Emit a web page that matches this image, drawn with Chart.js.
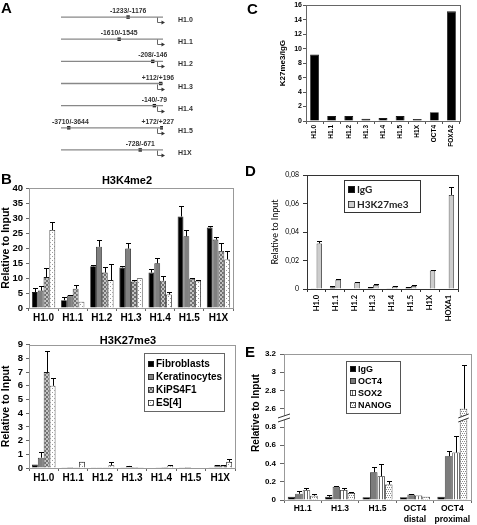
<!DOCTYPE html>
<html>
<head>
<meta charset="utf-8">
<title>Figure</title>
<script src="https://cdn.jsdelivr.net/npm/chart.js@4.4.1/dist/chart.umd.min.js"></script>
<style>
  html, body { margin: 0; padding: 0; background: #fff; }
  #fig { position: relative; width: 477px; height: 525px; overflow: hidden; font-family: "Liberation Sans", Arial, sans-serif; color: #000; }
  #fig canvas { position: absolute; }
  .letter { position: absolute; font-weight: bold; font-size: 15px; line-height: 15px; }
  .ptitle { position: absolute; font-weight: bold; font-size: 11px; line-height: 11px; transform: translate(-50%, -50%); white-space: nowrap; }
  .ytitle { position: absolute; font-weight: bold; font-size: 10px; line-height: 10px; transform: translate(-50%, -50%) rotate(-90deg); white-space: nowrap; }
</style>
</head>
<body>
<div id="fig">
  <canvas id="chartA" width="240" height="170" style="left:0;top:0"></canvas>
  <canvas id="chartB1" width="240" height="150" style="left:0;top:176px"></canvas>
  <canvas id="chartB2" width="240" height="150" style="left:0;top:336px"></canvas>
  <canvas id="chartC" width="227" height="170" style="left:250px;top:0"></canvas>
  <canvas id="chartD" width="227" height="165" style="left:250px;top:165px"></canvas>
  <canvas id="chartE" width="227" height="180" style="left:250px;top:345px"></canvas>
  <div class="letter" style="left:1px;top:0">A</div>
  <div class="letter" style="left:1px;top:171px">B</div>
  <div class="letter" style="left:247px;top:1px">C</div>
  <div class="letter" style="left:245px;top:163px">D</div>
  <div class="letter" style="left:245px;top:344px">E</div>
  <div class="ptitle" style="left:127px;top:180px">H3K4me2</div>
  <div class="ptitle" style="left:128px;top:340px">H3K27me3</div>
  <div class="ytitle" style="left:256px;top:413px">Relative to Input</div>
</div>
<script>
// ---- A: promoter map (positions in bp from the TSS)
const A_GENES = ['H1.0', 'H1.1', 'H1.2', 'H1.3', 'H1.4', 'H1.5', 'H1X']
const A_SPAN = [-4000, 250]
const A_SITES = ['-1233/-1176', '-1610/-1545', '-208/-146', '+112/+196', '-140/-79', '-3710/-3644', '+172/+227', '-728/-671']
const A_SITE_ROW = [0, 1, 2, 3, 4, 5, 5, 6]

// ---- B: ChIP, relative to input
const B_GENES = ['H1.0', 'H1.1', 'H1.2', 'H1.3', 'H1.4', 'H1.5', 'H1X']
const CELLS = ['Fibroblasts', 'Keratinocytes', 'KiPS4F1', 'ES[4]']
const K4_FIB = [5.3, 2.6, 13.9, 13.5, 11.8, 30.5, 26.8]
const K4_FIB_ERR = [1.3, 1.0, 0.4, 0.6, 1.3, 3.5, 0.5]
const K4_KER = [5.8, 4.2, 20.4, 19.8, 14.9, 23.9, 22.8]
const K4_KER_ERR = [1.6, 0.3, 2.2, 1.8, 1.8, 2.0, 1.0]
const K4_KIPS = [10.3, 6.4, 11.8, 8.8, 9.1, 9.8, 19.0]
const K4_KIPS_ERR = [3.0, 1.2, 2.0, 0.4, 1.6, 0.3, 2.8]
const K4_ES = [26.0, 2.1, 9.3, 9.9, 4.5, 9.1, 16.2]
const K4_ES_ERR = [2.6, 0, 5.5, 0, 0.7, 0.3, 2.7]

const K27_FIB = [0.25, 0.05, 0.05, 0.05, 0.03, 0.05, 0.05]
const K27_FIB_ERR = [0, 0, 0, 0, 0, 0, 0]
const K27_KER = [0.75, 0.08, 0.05, 0.15, 0.05, 0.07, 0.22]
const K27_KER_ERR = [0.4, 0, 0, 0.03, 0, 0, 0.03]
const K27_KIPS = [7.0, 0.05, 0.05, 0.07, 0.08, 0.04, 0.2]
const K27_KIPS_ERR = [1.55, 0, 0, 0, 0, 0, 0.03]
const K27_ES = [6.0, 0.45, 0.2, 0.05, 0.18, 0.04, 0.45]
const K27_ES_ERR = [0.6, 0, 0.22, 0, 0.02, 0, 0.22]

// ---- C: K27me3 / IgG
const C_GENES = ['H1.0', 'H1.1', 'H1.2', 'H1.3', 'H1.4', 'H1.5', 'H1X', 'OCT4', 'FOXA2']
const C_RATIO = [9.2, 0.68, 0.68, 0.3, 0.4, 0.68, 0.28, 1.2, 15.15]

// ---- D
const D_GENES = ['H1.0', 'H1.1', 'H1.2', 'H1.3', 'H1.4', 'H1.5', 'H1X', 'HOXA1']
const D_IGG = [0.0005, 0.0012, 0.0003, 0.0009, 0.0001, 0.001, 0.0003, 0.0004]
const D_IGG_ERR = [0, 0.0006, 0, 0.0005, 0, 0.0004, 0, 0]
const D_K27 = [0.032, 0.0065, 0.0046, 0.0028, 0.0017, 0.0022, 0.013, 0.066]
const D_K27_ERR = [0.0018, 0.0006, 0.0002, 0.001, 0.0001, 0.0005, 0.0003, 0.0055]

// ---- E (broken axis: 0..0.9 then 2.5..3.2)
const E_SITES = ['H1.1', 'H1.3', 'H1.5', ['OCT4', 'distal'], ['OCT4', 'proximal']]
const E_IGG = [0.035, 0.035, 0.03, 0.03, 0.035]
const E_IGG_ERR = [0, 0.015, 0, 0, 0]
const E_OCT4 = [0.068, 0.145, 0.305, 0.06, 0.48]
const E_OCT4_ERR = [0.03, 0.005, 0.055, 0.005, 0.06]
const E_SOX2 = [0.108, 0.11, 0.26, 0.05, 0.52]
const E_SOX2_ERR = [0.027, 0.02, 0.13, 0, 0.18]
const E_NANOG = [0.047, 0.078, 0.17, 0.035, 2.6]
const E_NANOG_ERR = [0.02, 0.01, 0.04, 0, 0.48]
const E_BREAK = 0.9
const E_JUMP = 1.6

const toAxis = (v) => (v > E_BREAK ? v - E_JUMP : v)
const fromAxis = (v) => (v > E_BREAK ? v + E_JUMP : v)

const FONT = '"Liberation Sans", Arial, sans-serif'
const LATO = 'Lato, "Liberation Sans", sans-serif'
Chart.defaults.font.family = FONT
Chart.defaults.color = '#000'
Chart.defaults.animation = false
Chart.defaults.responsive = false
Chart.defaults.events = []
Chart.defaults.plugins.legend.display = false
Chart.defaults.plugins.tooltip.enabled = false

function pattern(w, h, base, cells, ink) {
  const c = document.createElement('canvas')
  c.width = w
  c.height = h
  const g = c.getContext('2d')
  g.fillStyle = base
  g.fillRect(0, 0, w, h)
  g.fillStyle = ink
  cells.forEach(([x, y, cw, ch]) => g.fillRect(x, y, cw || 1, ch || 1))
  return g.createPattern(c, 'repeat')
}
const CHECK = pattern(4, 4, '#707070', [[0, 0, 2, 2], [2, 2, 2, 2]], '#c4c4c4')
const DOTS = pattern(4, 4, '#fff', [[0, 0], [2, 2]], '#9a9a9a')
const STRIPES = pattern(3, 1, '#fff', [[0, 0]], '#6a6a6a')
const DOTS2 = pattern(4, 4, '#fff', [[0, 0], [2, 0], [1, 2], [3, 2]], '#8a8a8a')

// plot frame
const frame = {
  id: 'frame',
  beforeDatasetsDraw(chart, args, o) {
    const { ctx, chartArea: a } = chart
    ctx.save()
    ctx.strokeStyle = o.color || '#888'
    ctx.lineWidth = 1
    ctx.strokeRect(Math.round(a.left) + 0.5, Math.round(a.top) + 0.5, Math.round(a.right - a.left), Math.round(a.bottom - a.top))
    ctx.restore()
  },
}

// upward error bars, dataset.errTop holds the tip value in axis units
const errorBars = {
  id: 'errorBars',
  afterDatasetsDraw(chart) {
    const { ctx } = chart
    const y = chart.scales.y
    ctx.save()
    ctx.strokeStyle = '#000'
    ctx.lineWidth = 1
    chart.data.datasets.forEach((ds, di) => {
      if (!ds.errTop) return
      chart.getDatasetMeta(di).data.forEach((bar, i) => {
        const top = ds.errTop[i]
        if (!(top > ds.data[i])) return
        const x = Math.round(bar.x) + 0.5
        const y1 = Math.round(y.getPixelForValue(top)) + 0.5
        const w = Math.min(bar.width / 2, 2.5)
        ctx.beginPath()
        ctx.moveTo(x, bar.y)
        ctx.lineTo(x, y1)
        ctx.moveTo(x - w, y1)
        ctx.lineTo(x + w, y1)
        ctx.stroke()
      })
    })
    ctx.restore()
  },
}

// boxed legend at a fixed spot inside the plot
const boxLegend = {
  id: 'boxLegend',
  afterDraw(chart, args, o) {
    if (!o || !o.box) return
    const { ctx } = chart
    const [l, t, w, h] = o.box
    ctx.save()
    ctx.fillStyle = '#fff'
    ctx.fillRect(l, t, w, h)
    ctx.strokeStyle = o.border || '#555'
    ctx.lineWidth = 1
    ctx.strokeRect(l + 0.5, t + 0.5, w, h)
    ctx.font = o.font
    ctx.textAlign = 'left'
    ctx.textBaseline = 'middle'
    chart.data.datasets.forEach((ds, i) => {
      const cy = t + o.first + i * o.rowH
      const sx = l + o.pad
      ctx.fillStyle = ds.backgroundColor
      ctx.fillRect(sx, Math.round(cy - o.sw / 2), o.sw, o.sw)
      ctx.strokeStyle = '#222'
      ctx.lineWidth = 0.8
      ctx.strokeRect(sx + 0.5, Math.round(cy - o.sw / 2) + 0.5, o.sw - 1, o.sw - 1)
      ctx.fillStyle = o.color || '#000'
      ctx.fillText(ds.label, sx + o.sw + 2, cy + 0.5)
    })
    ctx.restore()
  },
}

// axis break marks for panel E
const axisBreak = {
  id: 'axisBreak',
  afterDatasetsDraw(chart, args, o) {
    if (!o || o.at == null) return
    const { ctx } = chart
    const y = chart.scales.y
    const yb = y.getPixelForValue(o.at)
    const spots = [{ x: chart.chartArea.left, hw: 6 }]
    chart.data.datasets.forEach((ds, di) => {
      chart.getDatasetMeta(di).data.forEach((bar, i) => {
        if (ds.data[i] > o.at) spots.push({ x: bar.x, hw: bar.width / 2 + 1.5 })
      })
    })
    ctx.save()
    spots.forEach(({ x, hw }) => {
      ctx.fillStyle = '#fff'
      ctx.beginPath()
      ctx.moveTo(x - hw, yb + 1)
      ctx.lineTo(x + hw, yb - 3)
      ctx.lineTo(x + hw, yb + 1)
      ctx.lineTo(x - hw, yb + 5)
      ctx.closePath()
      ctx.fill()
      ctx.strokeStyle = '#333'
      ctx.lineWidth = 1
      ctx.beginPath()
      ctx.moveTo(x - hw, yb + 1)
      ctx.lineTo(x + hw, yb - 3)
      ctx.moveTo(x - hw, yb + 5)
      ctx.lineTo(x + hw, yb + 1)
      ctx.stroke()
    })
    ctx.restore()
  },
}

// gene labels, TSS arrows and amplicon labels for panel A
const A_SITE_POS = A_SITES.map((s) => s.split('/').map(Number)).map(([a, b]) => (a + b) / 2)
const promoterMap = {
  id: 'promoterMap',
  afterDatasetsDraw(chart) {
    const { ctx, scales: { x, y } } = chart
    const tss = Math.round(x.getPixelForValue(0)) + 0.5
    ctx.save()
    ctx.strokeStyle = '#666'
    ctx.fillStyle = '#333'
    ctx.lineWidth = 1
    A_GENES.forEach((g, i) => {
      const py = Math.round(y.getPixelForValue(i)) + 0.5
      ctx.beginPath()
      ctx.moveTo(tss, py)
      ctx.lineTo(tss, py + 5)
      ctx.lineTo(tss + 5, py + 5)
      ctx.stroke()
      ctx.beginPath()
      ctx.moveTo(tss + 7.5, py + 5)
      ctx.lineTo(tss + 4, py + 3)
      ctx.lineTo(tss + 4, py + 7)
      ctx.closePath()
      ctx.fill()
      ctx.font = 'bold 7px ' + FONT
      ctx.textAlign = 'left'
      ctx.textBaseline = 'middle'
      ctx.fillText(g, x.right + 15, py + 3)
    })
    ctx.font = 'bold 6.8px ' + FONT
    ctx.textBaseline = 'alphabetic'
    A_SITES.forEach((s, i) => {
      const px = x.getPixelForValue(A_SITE_POS[i])
      const py = y.getPixelForValue(A_SITE_ROW[i])
      const w = ctx.measureText(s).width
      const left = Math.max(x.left - 9, Math.min(px - w / 2, x.right + 11 - w))
      ctx.fillText(s, left, py - 4)
    })
    ctx.restore()
  },
}

new Chart(document.getElementById('chartA'), {
  type: 'scatter',
  data: {
    datasets: [
      ...A_GENES.map((g, i) => ({
        type: 'line',
        data: A_SPAN.map((v) => ({ x: v, y: i })),
        borderColor: '#888',
        borderWidth: 1.3,
        pointRadius: 0,
      })),
      {
        data: A_SITE_POS.map((v, i) => ({ x: v, y: A_SITE_ROW[i] })),
        pointStyle: 'rect',
        pointRadius: 2.4,
        backgroundColor: '#111',
        borderWidth: 0,
      },
    ],
  },
  options: {
    layout: { padding: { left: 61, right: 77, top: 6, bottom: 9 } },
    scales: {
      x: { type: 'linear', display: false, min: A_SPAN[0], max: A_SPAN[1] },
      y: { display: false, min: -0.5, max: A_GENES.length - 0.5, reverse: true },
    },
  },
  plugins: [promoterMap],
})

function yAxis({ min, max, step, width, font, tl, pad, border, title, cb }) {
  return {
    min, max,
    ticks: { stepSize: step, font, padding: pad, callback: cb, autoSkip: false },
    grid: { drawOnChartArea: false, tickLength: tl, color: border },
    border: { color: border },
    title: title || { display: false },
    afterFit: (s) => { s.width = width },
  }
}
function xAxis({ height, font, tl, pad, rot = 0, border }) {
  return {
    ticks: { font, padding: pad, maxRotation: rot, minRotation: rot, autoSkip: false },
    grid: { offset: true, drawOnChartArea: false, tickLength: tl, color: border },
    border: { color: border },
    afterFit: (s) => { s.height = height },
  }
}
function bars(label, values, errs, color) {
  return {
    label,
    data: values,
    errTop: errs ? values.map((v, i) => v + errs[i]) : null,
    backgroundColor: color,
    borderColor: '#1a1a1a',
    borderWidth: 0.8,
  }
}
function barChart(id, { labels, datasets, padding, x, y, catPct, barPct, frameColor, legend, breakAt, extra = [] }) {
  return new Chart(document.getElementById(id), {
    type: 'bar',
    data: { labels, datasets },
    options: {
      layout: { padding },
      datasets: { bar: { categoryPercentage: catPct, barPercentage: barPct } },
      scales: { x, y },
      plugins: { frame: { color: frameColor }, boxLegend: legend || false, axisBreak: breakAt != null ? { at: breakAt } : false },
    },
    plugins: [frame, errorBars, boxLegend, ...extra],
  })
}

const B_COLORS = ['#000', '#808080', CHECK, DOTS]
const bTitle = { display: true, text: 'Relative to Input', font: { size: 10.5, weight: 'bold' }, padding: { top: 0, bottom: 0 } }

barChart('chartB1', {
  labels: B_GENES,
  datasets: [
    bars(CELLS[0], K4_FIB, K4_FIB_ERR, B_COLORS[0]),
    bars(CELLS[1], K4_KER, K4_KER_ERR, B_COLORS[1]),
    bars(CELLS[2], K4_KIPS, K4_KIPS_ERR, B_COLORS[2]),
    bars(CELLS[3], K4_ES, K4_ES_ERR, B_COLORS[3]),
  ],
  padding: { left: 0, right: 7, top: 12, bottom: 0 },
  x: xAxis({ height: 18, font: { size: 10, weight: 'bold' }, tl: 3, pad: 1, border: '#666' }),
  y: yAxis({ min: 0, max: 40, step: 5, width: 29, font: { size: 9.5, weight: 'bold' }, tl: 3, pad: 3, border: '#666', title: bTitle }),
  catPct: 0.8, barPct: 1, frameColor: '#999',
})

barChart('chartB2', {
  labels: B_GENES,
  datasets: [
    bars(CELLS[0], K27_FIB, K27_FIB_ERR, B_COLORS[0]),
    bars(CELLS[1], K27_KER, K27_KER_ERR, B_COLORS[1]),
    bars(CELLS[2], K27_KIPS, K27_KIPS_ERR, B_COLORS[2]),
    bars(CELLS[3], K27_ES, K27_ES_ERR, B_COLORS[3]),
  ],
  padding: { left: 0, right: 5, top: 8, bottom: 0 },
  x: xAxis({ height: 18, font: { size: 10, weight: 'bold' }, tl: 3, pad: 1, border: '#666' }),
  y: yAxis({ min: 0, max: 9, step: 1, width: 29, font: { size: 9.5, weight: 'bold' }, tl: 3, pad: 3, border: '#666', title: bTitle }),
  catPct: 0.8, barPct: 1, frameColor: '#999',
  legend: { box: [144, 17, 80, 58], first: 11, rowH: 13, pad: 4, sw: 6, font: 'bold 10px ' + FONT, border: '#666' },
})

barChart('chartC', {
  labels: C_GENES,
  datasets: [bars('K27me3/IgG', C_RATIO, null, '#000')],
  padding: { left: 28, right: 17, top: 5, bottom: 0 },
  x: xAxis({ height: 49, font: { size: 6.5, weight: 'bold' }, tl: 3, pad: 1, rot: 90, border: '#555' }),
  y: yAxis({
    min: 0, max: 16, step: 2, width: 28, font: { size: 7, weight: 'bold' }, tl: 3, pad: 1, border: '#555',
    title: { display: true, text: 'K27me3/IgG', font: { size: 8, weight: 'bold' }, padding: { top: 0, bottom: 0 } },
  }),
  catPct: 0.52, barPct: 1, frameColor: '#666',
})

barChart('chartD', {
  labels: D_GENES,
  datasets: [
    bars('IgG', D_IGG, D_IGG_ERR, '#000'),
    bars('H3K27me3', D_K27, D_K27_ERR, '#cdcdcd'),
  ],
  padding: { left: 20, right: 19, top: 10, bottom: 0 },
  x: xAxis({ height: 41, font: { family: LATO, size: 7.5, weight: 'bold' }, tl: 3, pad: 3, rot: 90, border: '#333' }),
  y: yAxis({
    min: 0, max: 0.08, step: 0.02, width: 37, font: { family: LATO, size: 7 }, tl: 4, pad: 4, border: '#333',
    cb: (v) => (v === 0 ? '0' : v.toFixed(2).replace('.', ',')),
    title: { display: true, text: 'Relative to Input', font: { family: LATO, size: 9 }, padding: { top: 0, bottom: 0 } },
  }),
  catPct: 0.6, barPct: 0.95, frameColor: '#333',
  legend: { box: [94, 15, 76, 32], first: 9, rowH: 15, pad: 4, sw: 7, font: 'bold 10px ' + LATO, color: '#222', border: '#333' },
})

const eBars = (label, vals, errs, color) => {
  const ds = bars(label, vals.map(toAxis), null, color)
  ds.errTop = vals.map((v, i) => toAxis(v + errs[i]))
  return ds
}
barChart('chartE', {
  labels: E_SITES,
  datasets: [
    eBars('IgG', E_IGG, E_IGG_ERR, '#000'),
    eBars('OCT4', E_OCT4, E_OCT4_ERR, '#7c7c7c'),
    eBars('SOX2', E_SOX2, E_SOX2_ERR, STRIPES),
    eBars('NANOG', E_NANOG, E_NANOG_ERR, DOTS2),
  ],
  padding: { left: 0, right: 6, top: 9, bottom: 0 },
  x: xAxis({ height: 25, font: { size: 8.5, weight: 'bold', lineHeight: 1.3 }, tl: 3, pad: 0, border: '#666' }),
  y: yAxis({
    min: 0, max: toAxis(3.2), step: 0.2, width: 34, font: { size: 8, weight: 'bold' }, tl: 4, pad: 4, border: '#666',
    cb: (v) => String(Math.round(fromAxis(v) * 10) / 10),
  }),
  catPct: 0.8, barPct: 1, frameColor: '#999',
  breakAt: E_BREAK + 0.01,
  legend: { box: [96, 16, 54, 52], first: 8, rowH: 12, pad: 4, sw: 6, font: 'bold 9px ' + FONT, border: '#555' },
  extra: [axisBreak],
})
</script>
</body>
</html>
